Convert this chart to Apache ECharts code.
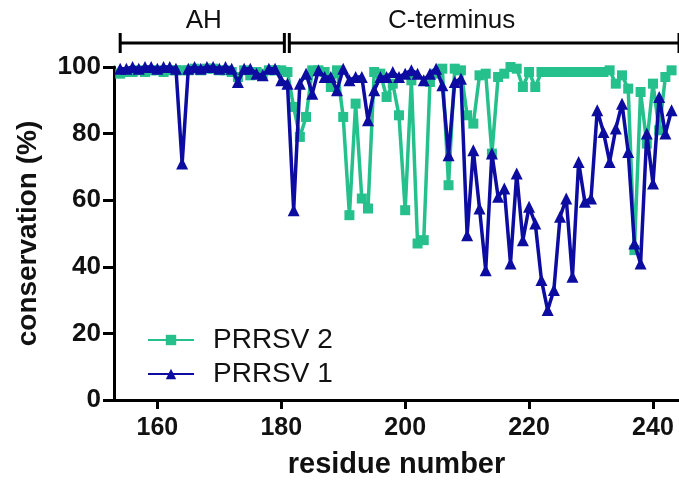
<!DOCTYPE html>
<html>
<head>
<meta charset="utf-8">
<script src="https://cdn.jsdelivr.net/npm/echarts@6/dist/echarts.min.js"></script>
<style>
html, body { margin: 0; padding: 0; background: #fff; }
#chart { width: 679px; height: 484px; }
</style>
</head>
<body>
<div id="chart"></div>
<script>
// residues 154 .. 243, one value per residue
var firstResidue = 154;
var prrsv2 = [
    98, 98.5, 98.5, 99, 98.5, 99, 99, 98.5, 99, 99,
    99, 99, 99.5, 99, 99.5, 99.5, 99, 99, 98.5, 97,
    99, 97.5, 98.5, 98, 99, 99, 99, 98.5, 88, 79,
    85, 99, 99, 98.5, 94, 99, 85, 55.5, 89, 60.5,
    57.5, 98.5, 98, 91, 95, 85.5, 57, 96, 47, 48,
    95.5, 98, 99.5, 64.5, 99.5, 99, 85.5, 83, 97.5, 98,
    74, 97, 98, 100, 99.5, 94, 98.5, 94, 98.5, 98.5,
    98.5, 98.5, 98.5, 98.5, 98.5, 98.5, 98.5, 98.5, 98.5, 99,
    95, 97.5, 93.5, 45, 92.5, 77, 95, 81, 97, 99
];
var prrsv1 = [
    99.5, 99.5, 100, 99.5, 100, 100, 99.5, 100, 100, 99.5,
    71, 99.5, 100, 99.5, 100, 100, 99.5, 100, 99.5, 95.5,
    99.5, 99.5, 98, 97.5, 99.5, 99.5, 96, 95, 57, 95,
    98, 92, 99, 97, 97, 93, 99.5, 96, 97, 97,
    84, 93, 97, 97, 98.5, 97, 98, 99, 98, 96,
    98, 99.5, 94.5, 73.5, 95.5, 96.5, 49.5, 75, 57.5, 39,
    74, 61, 63.5, 41, 68, 48, 58, 53, 36, 27,
    33, 55, 60.5, 37, 71.5, 59.5, 60.5, 87, 80.5, 71.5,
    81.5, 89, 74.5, 47, 41, 80, 65, 91, 80, 87
];
var xTicks = [160, 180, 200, 220, 240];
// domain brackets above the plot (residue numbers)
var domainNames = ['AH', 'C-terminus'];
var domainFrom = [154, 181.3];
var domainTo = [180.5, 244.2];
var domainLabelAt = [167.5, 207.5];

var font = 'Liberation Sans, Arial, sans-serif';
var green = '#25c08c';
var blue = '#0c0ca0';

function pairs(values) {
    return values.map(function (v, i) { return [firstResidue + i, v]; });
}

var chart = echarts.init(document.getElementById('chart'));

var option = {
    backgroundColor: '#fff',
    animation: false,
    textStyle: { fontFamily: font },
    grid: { left: 114, right: 0, top: 67, bottom: 77 },
    legend: {
        orient: 'vertical',
        left: 142,
        top: 321,
        itemWidth: 46,
        itemHeight: 13,
        itemGap: 6,
        textStyle: { fontSize: 28, color: '#111', fontFamily: font, padding: [0, 0, 0, 14] },
        data: ['PRRSV 2', 'PRRSV 1']
    },
    xAxis: {
        type: 'value',
        min: 153,
        max: 244.2,
        name: 'residue number',
        nameLocation: 'middle',
        nameGap: 50,
        nameTextStyle: { fontSize: 29, fontWeight: 'bold', color: '#111' },
        axisLine: { lineStyle: { color: '#000', width: 3 } },
        axisTick: { show: true, length: 9, customValues: xTicks, lineStyle: { color: '#000', width: 3 } },
        axisLabel: { customValues: xTicks, fontSize: 25, fontWeight: 'bold', color: '#111', margin: 16 },
        splitLine: { show: false }
    },
    yAxis: {
        type: 'value',
        min: 0,
        max: 100,
        interval: 20,
        name: 'conservation (%)',
        nameLocation: 'middle',
        nameGap: 72,
        nameTextStyle: { fontSize: 28, fontWeight: 'bold', color: '#111' },
        axisLine: { show: true, lineStyle: { color: '#000', width: 3 } },
        axisTick: { show: true, length: 11, lineStyle: { color: '#000', width: 3 } },
        axisLabel: { fontSize: 26, fontWeight: 'bold', color: '#111', margin: 13 },
        splitLine: { show: false }
    },
    series: [
        {
            name: 'PRRSV 2',
            type: 'line',
            clip: false,
            data: pairs(prrsv2),
            symbol: 'rect',
            symbolSize: 10,
            itemStyle: { color: green },
            lineStyle: { color: green, width: 3.5 },
            z: 2
        },
        {
            name: 'PRRSV 1',
            type: 'line',
            clip: false,
            data: pairs(prrsv1),
            symbol: 'triangle',
            symbolSize: 12,
            itemStyle: { color: blue },
            lineStyle: { color: blue, width: 3.5 },
            z: 3
        }
    ]
};
chart.setOption(option);

// brackets: positions come from the x axis scale
var barY = 43, capH = 10;
var g = [];
function px(v) { return chart.convertToPixel({ xAxisIndex: 0 }, v); }
domainNames.forEach(function (name, i) {
    var x1 = px(domainFrom[i]), x2 = px(domainTo[i]);
    g.push({ type: 'line', shape: { x1: x1, y1: barY, x2: x2, y2: barY }, style: { stroke: '#000', lineWidth: 3 } });
    g.push({ type: 'line', shape: { x1: x1, y1: barY - capH, x2: x1, y2: barY + capH }, style: { stroke: '#000', lineWidth: 3 } });
    g.push({ type: 'line', shape: { x1: x2, y1: barY - capH, x2: x2, y2: barY + capH }, style: { stroke: '#000', lineWidth: 3 } });
    g.push({
        type: 'text',
        x: px(domainLabelAt[i]),
        y: 21,
        style: { text: name, fontSize: 26, fontFamily: font, fill: '#111', align: 'center', verticalAlign: 'middle' }
    });
});
chart.setOption({ graphic: g });
</script>
</body>
</html>
